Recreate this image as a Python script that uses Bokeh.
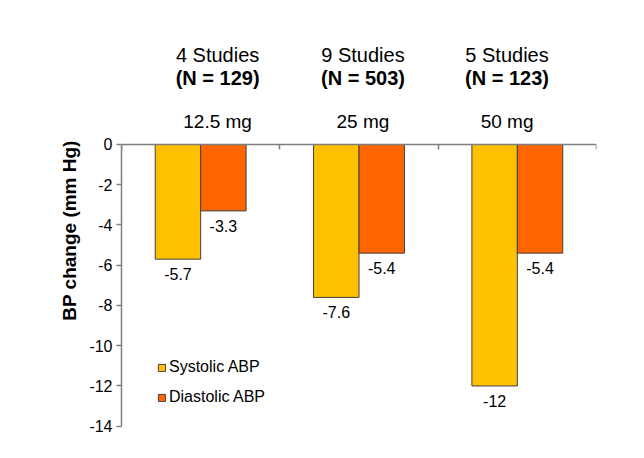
from bokeh.plotting import figure
from bokeh.models import (Range1d, ColumnDataSource, FixedTicker, CustomJSTickFormatter,
                          Legend, LegendItem)
from bokeh.core.properties import value
from bokeh.embed import file_html
from bokeh.resources import INLINE

# ---- data ----
doses = ["12.5 mg", "25 mg", "50 mg"]
studies = ["4 Studies", "9 Studies", "5 Studies"]
patients = ["(N = 129)", "(N = 503)", "(N = 123)"]
systolic = [-5.7, -7.6, -12.0]
diastolic = [-3.3, -5.4, -5.4]
systolic_labels = ["-5.7", "-7.6", "-12"]
diastolic_labels = ["-3.3", "-5.4", "-5.4"]
y_ticks = [0, -2, -4, -6, -8, -10, -12, -14]

# ---- layout / style ----
FONT = "Liberation Sans"
BAR_W = 0.287
SYS_COLOR = "#FFC000"
DIA_COLOR = "#FF6600"
AXIS_COLOR = "#7F7F7F"
LABEL_GAP = 0.74            # value label distance below bar end (data units)
HEADER_SHIFT = [0.107, 0.025, -0.065]

centers = [i + 0.5 for i in range(len(doses))]
sys_x = [c - BAR_W / 2 for c in centers]
dia_x = [c + BAR_W / 2 for c in centers]
head_x = [c + s for c, s in zip(centers, HEADER_SHIFT)]

sys_src = ColumnDataSource(dict(x=sys_x, v=systolic, lab=systolic_labels,
                                ly=[v - LABEL_GAP for v in systolic]))
dia_src = ColumnDataSource(dict(x=dia_x, v=diastolic, lab=diastolic_labels,
                                ly=[v - LABEL_GAP for v in diastolic]))
head_src = ColumnDataSource(dict(x=head_x, studies=studies, patients=patients, doses=doses))

p = figure(width=628, height=442, x_range=Range1d(0, 3), y_range=Range1d(-14.71, 6.16),
           output_backend="svg", toolbar_location=None,
           min_border_left=121, min_border_right=32, min_border_top=20, min_border_bottom=2)
p.grid.visible = False
p.outline_line_color = None
p.background_fill_color = "white"
p.border_fill_color = "white"

# y axis
ya = p.yaxis[0]
ya.bounds = (-14, 0)
ya.ticker = FixedTicker(ticks=y_ticks)
ya.formatter = CustomJSTickFormatter(code="return tick.toString()")
ya.axis_label = "BP change (mm Hg)"
ya.axis_label_text_font = FONT
ya.axis_label_text_font_style = "bold"
ya.axis_label_text_font_size = "19px"
ya.axis_label_text_color = "black"
ya.axis_label_standoff = 6
ya.major_label_text_font = FONT
ya.major_label_text_font_size = "16px"
ya.major_label_text_color = "black"
ya.major_label_standoff = 4
ya.major_tick_out = 5
ya.major_tick_in = 0
ya.minor_tick_out = 0
ya.axis_line_color = AXIS_COLOR
ya.axis_line_width = 1.5
ya.major_tick_line_color = AXIS_COLOR
ya.major_tick_line_width = 1.5

# x axis at zero
xa = p.xaxis[0]
xa.fixed_location = 0
xa.ticker = FixedTicker(ticks=[0, 1, 2, 3])
xa.formatter = CustomJSTickFormatter(code="return ''")
xa.major_tick_out = 5
xa.major_tick_in = 0
xa.minor_tick_out = 0
xa.axis_line_color = AXIS_COLOR
xa.axis_line_width = 1.5
xa.major_tick_line_color = AXIS_COLOR
xa.major_tick_line_width = 1.5

# bars
r_sys = p.vbar(x="x", top=0, bottom="v", width=BAR_W, source=sys_src,
               fill_color=SYS_COLOR, line_color="#404040", line_width=1)
r_dia = p.vbar(x="x", top=0, bottom="v", width=BAR_W, source=dia_src,
               fill_color=DIA_COLOR, line_color="#404040", line_width=1)

# value labels
for src in (sys_src, dia_src):
    p.text(x="x", y="ly", text="lab", source=src, text_align="center",
           text_baseline="middle", text_font=value(FONT), text_font_size="16px",
           text_color="black")

# header texts
p.text(x="x", y=4.47, text="studies", source=head_src, text_align="center",
       text_baseline="middle", text_font=value(FONT), text_font_size="20px", text_color="black")
p.text(x="x", y=3.28, text="patients", source=head_src, text_align="center",
       text_baseline="middle", text_font=value(FONT), text_font_size="20px",
       text_font_style="bold", text_color="black")
p.text(x="x", y=1.14, text="doses", source=head_src, text_align="center",
       text_baseline="middle", text_font=value(FONT), text_font_size="19px", text_color="black")

legend = Legend(items=[LegendItem(label="Systolic ABP", renderers=[r_sys]),
                       LegendItem(label="Diastolic ABP", renderers=[r_dia])],
                location=(36, 33), padding=0, margin=0, border_line_color=None,
                background_fill_alpha=0, glyph_width=9, glyph_height=9,
                label_standoff=3, spacing=10, label_height=20,
                label_text_font=FONT, label_text_font_size="16px", label_text_color="black")
p.add_layout(legend)

open("out.html", "w").write(file_html(p, INLINE))
